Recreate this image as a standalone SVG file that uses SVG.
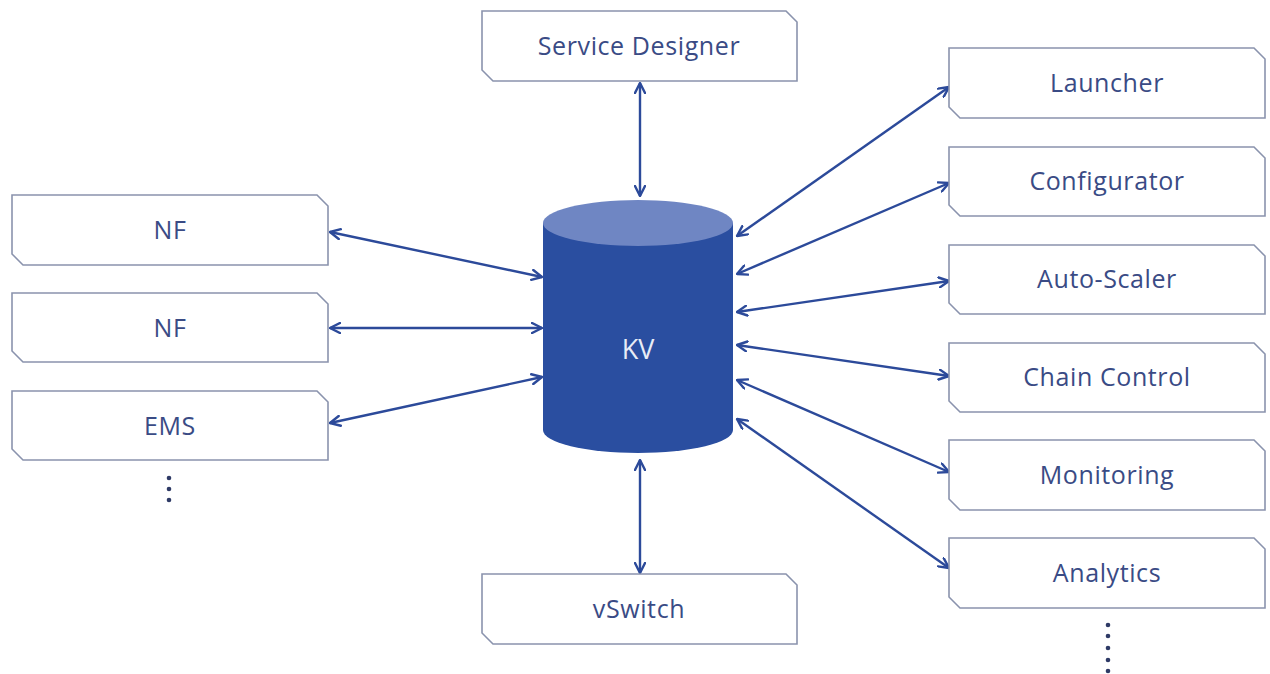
<svg xmlns="http://www.w3.org/2000/svg" width="1270" height="674" viewBox="0 0 1270 674">
<defs>
<style>
.box{fill:#ffffff;stroke:#8a93ad;stroke-width:1.6}
.lbl{font-family:"Open Sans","Liberation Sans",sans-serif;font-size:25px;letter-spacing:0.6px;fill:#3a4b85;text-anchor:middle}
.conn{stroke:#2c4a9a;stroke-width:2.4;fill:none;marker-start:url(#ah);marker-end:url(#ah)}
.dot{fill:#2e3a66}
</style>
<marker id="ah" viewBox="0 0 12 12" refX="11" refY="6" markerWidth="12" markerHeight="12" markerUnits="userSpaceOnUse" orient="auto-start-reverse">
<path d="M1,1 L11,6 L1,11" fill="none" stroke="#2c4a9a" stroke-width="2.4" stroke-linecap="round" stroke-linejoin="round"/>
</marker>
</defs>
<rect width="1270" height="674" fill="#ffffff"/>

<g id="connectors">
<line class="conn" x1="640" y1="83" x2="640" y2="196"/>
<line class="conn" x1="640" y1="460" x2="640" y2="573"/>
<line class="conn" x1="330" y1="232" x2="542" y2="277"/>
<line class="conn" x1="330" y1="328" x2="542" y2="328"/>
<line class="conn" x1="330" y1="423" x2="542" y2="377"/>
<line class="conn" x1="737" y1="236" x2="949" y2="87"/>
<line class="conn" x1="737" y1="274" x2="949" y2="183"/>
<line class="conn" x1="737" y1="312" x2="949" y2="281"/>
<line class="conn" x1="737" y1="345" x2="949" y2="376"/>
<line class="conn" x1="737" y1="380" x2="949" y2="472"/>
<line class="conn" x1="737" y1="419" x2="949" y2="568"/>
</g>

<g id="kv">
<path d="M543,223 V430 A95,23 0 0 0 733,430 V223 Z" fill="#2a4ea0"/>
<ellipse cx="638" cy="223" rx="95" ry="23" fill="#6f86c3"/>
<text x="638" y="359" font-family="'Open Sans','Liberation Sans',sans-serif" font-size="27" fill="#e8ecf6" text-anchor="middle">KV</text>
</g>

<g id="service-designer">
<path class="box" d="M482,11 H786 L797,22 V81 H493 L482,70 Z"/>
<text class="lbl" x="639" y="55">Service Designer</text>
</g>
<g id="vswitch">
<path class="box" d="M482,574 H786 L797,585 V644 H493 L482,633 Z"/>
<text class="lbl" x="639" y="618">vSwitch</text>
</g>

<g id="nf1">
<path class="box" d="M12,195 H317 L328,206 V265 H23 L12,254 Z"/>
<text class="lbl" x="170" y="239">NF</text>
</g>
<g id="nf2">
<path class="box" d="M12,293 H317 L328,304 V362 H23 L12,351 Z"/>
<text class="lbl" x="170" y="337">NF</text>
</g>
<g id="ems">
<path class="box" d="M12,391 H317 L328,402 V460 H23 L12,449 Z"/>
<text class="lbl" x="170" y="435">EMS</text>
</g>
<g id="dots-left">
<circle class="dot" cx="169" cy="478" r="2.3"/>
<circle class="dot" cx="169" cy="489" r="2.3"/>
<circle class="dot" cx="169" cy="500" r="2.3"/>
</g>

<g id="launcher">
<path class="box" d="M949,48 H1254 L1265,59 V118 H960 L949,107 Z"/>
<text class="lbl" x="1107" y="92">Launcher</text>
</g>
<g id="configurator">
<path class="box" d="M949,147 H1254 L1265,158 V216 H960 L949,205 Z"/>
<text class="lbl" x="1107" y="190">Configurator</text>
</g>
<g id="auto-scaler">
<path class="box" d="M949,245 H1254 L1265,256 V314 H960 L949,303 Z"/>
<text class="lbl" x="1107" y="288">Auto-Scaler</text>
</g>
<g id="chain-control">
<path class="box" d="M949,343 H1254 L1265,354 V412 H960 L949,401 Z"/>
<text class="lbl" x="1107" y="386">Chain Control</text>
</g>
<g id="monitoring">
<path class="box" d="M949,440 H1254 L1265,451 V510 H960 L949,499 Z"/>
<text class="lbl" x="1107" y="484">Monitoring</text>
</g>
<g id="analytics">
<path class="box" d="M949,538 H1254 L1265,549 V608 H960 L949,597 Z"/>
<text class="lbl" x="1107" y="582">Analytics</text>
</g>
<g id="dots-right">
<circle class="dot" cx="1108" cy="625" r="2.3"/>
<circle class="dot" cx="1108" cy="636" r="2.3"/>
<circle class="dot" cx="1108" cy="648" r="2.3"/>
<circle class="dot" cx="1108" cy="660" r="2.3"/>
<circle class="dot" cx="1108" cy="671" r="2.3"/>
</g>
</svg>
